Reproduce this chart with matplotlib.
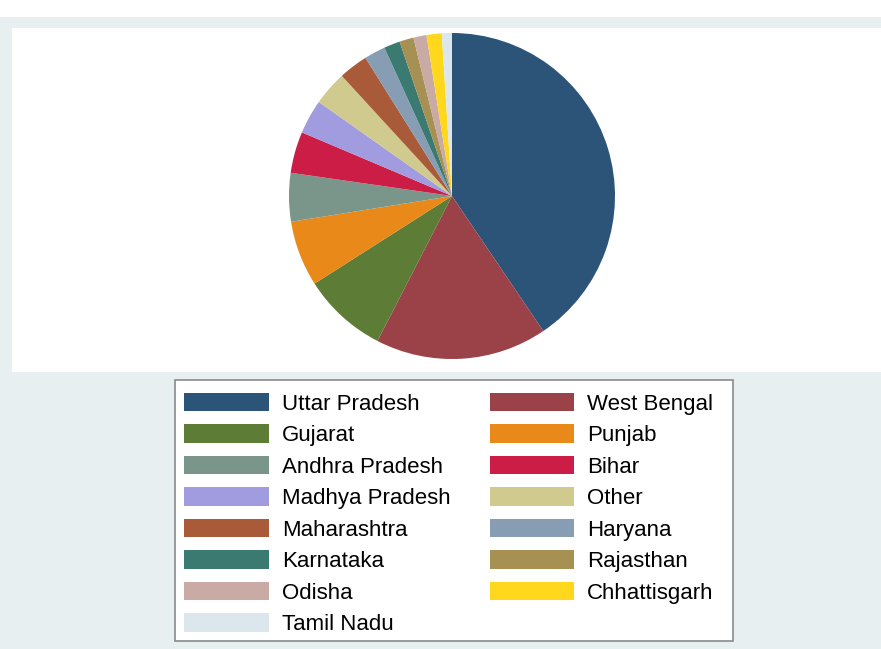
import matplotlib.pyplot as plt
from matplotlib.patches import Rectangle, Patch

# shares (percent), clockwise from 12 o'clock
states = ['Uttar Pradesh', 'West Bengal', 'Gujarat', 'Punjab', 'Andhra Pradesh',
          'Bihar', 'Madhya Pradesh', 'Other', 'Maharashtra', 'Haryana',
          'Karnataka', 'Rajasthan', 'Odisha', 'Chhattisgarh', 'Tamil Nadu']
shares = [40.5, 17.0, 8.4, 6.5, 4.8, 4.1, 3.4, 3.4, 2.9, 2.1, 1.6, 1.4, 1.3, 1.5, 1.0]
colors = ['#2c5479', '#9b4148', '#5d7c36', '#e8891a', '#7a968b', '#cc1d47',
          '#a19be0', '#d0ca8e', '#a95a38', '#869db4', '#3a7a71', '#a69052',
          '#c9aaa5', '#ffd71c', '#dbe7ec']

W, H = 881, 649
fig = plt.figure(figsize=(W / 100, H / 100), dpi=100)
fig.patch.set_facecolor('#e8eff1')

# white strip at very top, white plot region, legend box
fig.patches.append(Rectangle((0, 1 - 17 / H), 1, 17 / H, transform=fig.transFigure,
                             facecolor='white', edgecolor='none', zorder=-2))
fig.patches.append(Rectangle((12 / W, 1 - 372 / H), 1, (372 - 28) / H,
                             transform=fig.transFigure, facecolor='white',
                             edgecolor='none', zorder=-2))
fig.patches.append(Rectangle((175 / W, 1 - 641 / H), (733 - 175) / W, (641 - 380) / H,
                             transform=fig.transFigure, facecolor='white',
                             edgecolor='#8a8a8a', linewidth=1.2, zorder=-1))

cx, cy, r = 452, 196, 163
ax = fig.add_axes([(cx - r) / W, (H - cy - r) / H, 2 * r / W, 2 * r / H])
ax.set_zorder(1)
ax.pie(shares, colors=colors, startangle=90, counterclock=False, radius=1,
       wedgeprops={'linewidth': 0})
ax.set_xlim(-1, 1)
ax.set_ylim(-1, 1)
ax.set_aspect('auto')
ax.axis('off')

# legend filled row by row (two columns)
handles = [Patch(facecolor=c, edgecolor='none') for c in colors]
order = list(range(0, 15, 2)) + list(range(1, 15, 2))
leg = fig.legend([handles[i] for i in order], [states[i] for i in order],
                 ncol=2, loc='upper center', bbox_to_anchor=(449 / W, 1 - 383 / H),
                 prop={'family': 'Liberation Sans', 'size': 16},
                 handlelength=3.8, handleheight=0.9, handletextpad=0.6,
                 columnspacing=1.75, labelspacing=0.43, borderpad=0.45,
                 frameon=False, borderaxespad=0)
leg.set_zorder(2)

fig.savefig('out.png', dpi=100, facecolor=fig.get_facecolor())
